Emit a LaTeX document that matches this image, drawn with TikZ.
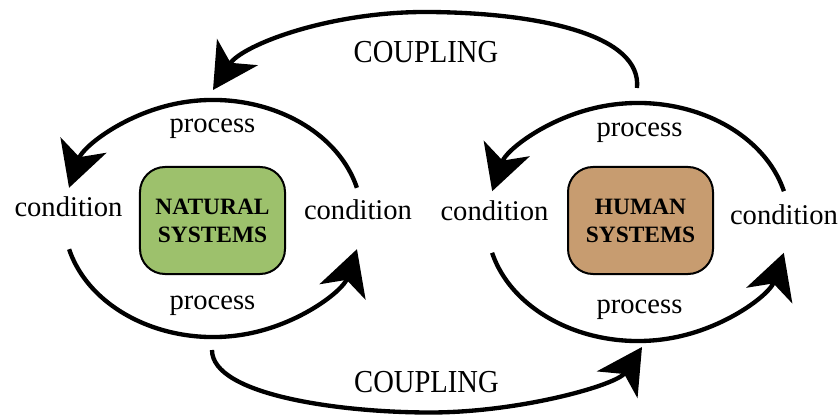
\documentclass[tikz,border=0pt]{standalone}
\usepackage{fontspec}
\setmainfont{Liberation Serif}
\usetikzlibrary{arrows.meta}
\definecolor{natgreen}{RGB}{157,193,108}
\definecolor{humtan}{RGB}{199,156,112}
\tikzset{
  loopline/.style={line width=0.13cm, -{Stealth[length=1.35cm,width=1.45cm,inset=0.38cm]}},
  sysbox/.style={draw=black, line width=0.06cm, rounded corners=0.75cm, minimum width=4.35cm, minimum height=3.21cm, align=center, font=\fontsize{20}{24}\selectfont\bfseries, inner sep=0pt},
  lbl/.style={anchor=base, inner sep=0pt, font=\fontsize{24.4}{29}\selectfont}
}
\begin{document}
\begin{tikzpicture}[x=0.03cm,y=0.03cm]
\useasboundingbox (0,0) rectangle (839,415);
% boxes
\node[sysbox, fill=natgreen] (nat) at (212.5,194.5) {NATURAL\\SYSTEMS};
\node[sysbox, fill=humtan] (hum) at (640.5,194.5) {HUMAN\\SYSTEMS};
% labels
\node[lbl] (cL1) at (68.5,198.3) {condition};
\node[lbl] (cR1) at (358,195) {condition};
\node[lbl] (pT1) at (212.5,282) {process};
\node[lbl] (pB1) at (212.5,106) {process};
\node[lbl] (cL2) at (494.5,194) {condition};
\node[lbl] (cR2) at (784,190) {condition};
\node[lbl] (pT2) at (639.5,278) {process};
\node[lbl] (pB2) at (639.5,102) {process};
\node[lbl] (kT) at (426,352) {\scalebox{1}[1.12]{COUPLING}};
\node[lbl] (kB) at (426.5,23) {\scalebox{1}[1.12]{COUPLING}};
% loop start points
\coordinate (n1s) at (356.9,227.2);
\coordinate (n2s) at (69.1,165.8);
\coordinate (h1s) at (783.9,223.8);
\coordinate (h2s) at (492.1,162.2);
\coordinate (t1s) at (637,327);
\coordinate (t1e) at (213,325);
\coordinate (b1s) at (212,65);
\coordinate (b1e) at (642,68);
% natural loop
\draw[loopline] (n1s) arc[start angle=15, end angle=165, x radius=149, y radius=118.5];
\draw[loopline] (n2s) arc[start angle=195, end angle=345, x radius=149, y radius=118.5];
% human loop
\draw[loopline] (h1s) arc[start angle=15, end angle=165, x radius=151, y radius=119];
\draw[loopline] (h2s) arc[start angle=195, end angle=345, x radius=151, y radius=119];
% coupling
\draw[loopline] (t1s) .. controls (642,380) and (540,402) .. (430,403) .. controls (330,404) and (242,370) .. (t1e);
\draw[loopline] (b1s) .. controls (212,20) and (340,2.5) .. (430,2.5) .. controls (520,2.5) and (617,30) .. (b1e);
\end{tikzpicture}
\end{document}
